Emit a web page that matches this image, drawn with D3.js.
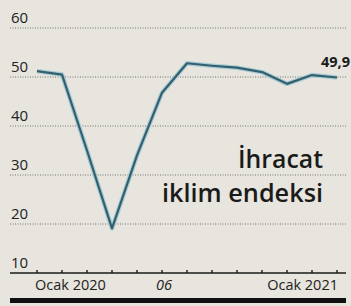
<!DOCTYPE html>
<html>
<head>
<meta charset="utf-8">
<script src="https://cdn.jsdelivr.net/npm/d3@7"></script>
<style>
  body { margin: 0; background: #e7e5de; }
  svg { display: block; font-family: "Open Sans", sans-serif; }
</style>
</head>
<body>
<svg id="svg1" width="351" height="306"></svg>
<script>
// ihracat iklim endeksi, Ocak 2020 - Ocak 2021
var months = ['2020-01','2020-02','2020-03','2020-04','2020-05','2020-06','2020-07',
              '2020-08','2020-09','2020-10','2020-11','2020-12','2021-01'];
var values = [51.2, 50.5, 35.0, 19.1, 34.0, 46.8, 52.8, 52.3, 51.9, 51.0, 48.6, 50.4, 49.9];
var yTicks = [10, 20, 30, 40, 50, 60];
var xLabels = [{i: 0, text: 'Ocak 2020', anchor: 'start', dx: -2, italic: false},
               {i: 5, text: '06', anchor: 'middle', dx: 2, italic: true},
               {i: 12, text: 'Ocak 2021', anchor: 'end', dx: 1, italic: false}];
var lastLabel = '49,9';

var svg = d3.select('#svg1');

var x = d3.scaleLinear()
    .domain([0, months.length - 1])
    .range([37, 337]);

var y = d3.scaleLinear()
    .domain([10, 60])
    .range([273, 28]);

// dotted grid lines + labels
svg.selectAll('.grid')
    .data(yTicks.filter(function(d){ return d > 10; }))
    .enter()
    .append('line')
    .attr('class', 'grid')
    .attr('x1', 10)
    .attr('x2', 347)
    .attr('y1', function(d){ return y(d); })
    .attr('y2', function(d){ return y(d); })
    .attr('stroke', '#555')
    .attr('stroke-width', 0.8)
    .attr('stroke-dasharray', '1,1.5');

svg.selectAll('.ylab')
    .data(yTicks)
    .enter()
    .append('text')
    .attr('class', 'ylab')
    .attr('x', 11)
    .attr('y', function(d){ return y(d) - 5; })
    .attr('font-size', 15)
    .attr('fill', '#222')
    .text(function(d){ return d; });

// baseline with month ticks
svg.append('line')
    .attr('x1', 10)
    .attr('x2', 346)
    .attr('y1', y(10))
    .attr('y2', y(10))
    .attr('stroke', '#1a1a1a')
    .attr('stroke-width', 1.6);

svg.selectAll('.tick')
    .data(months)
    .enter()
    .append('line')
    .attr('class', 'tick')
    .attr('x1', function(d, i){ return x(i); })
    .attr('x2', function(d, i){ return x(i); })
    .attr('y1', y(10))
    .attr('y2', y(10) - 3)
    .attr('stroke', '#1a1a1a')
    .attr('stroke-width', 1.4);

svg.selectAll('.xlab')
    .data(xLabels)
    .enter()
    .append('text')
    .attr('class', 'xlab')
    .attr('x', function(d){ return x(d.i) + d.dx; })
    .attr('y', 290)
    .attr('text-anchor', function(d){ return d.anchor; })
    .attr('font-size', 14.5)
    .attr('font-style', function(d){ return d.italic ? 'italic' : 'normal'; })
    .attr('fill', '#222')
    .text(function(d){ return d.text; });

// thick bottom bar
svg.append('rect')
    .attr('x', 10)
    .attr('y', 298)
    .attr('width', 336)
    .attr('height', 5)
    .attr('fill', '#111');

// the line
var line = d3.line()
    .x(function(d, i){ return x(i); })
    .y(function(d){ return y(d); });

svg.append('path')
    .datum(values)
    .attr('d', line)
    .attr('fill', 'none')
    .attr('stroke', '#a9cbd6')
    .attr('stroke-width', 4.5)
    .attr('stroke-linejoin', 'round');

svg.append('path')
    .datum(values)
    .attr('d', line)
    .attr('fill', 'none')
    .attr('stroke', '#33606c')
    .attr('stroke-width', 2.2)
    .attr('stroke-linejoin', 'round');

svg.append('text')
    .attr('x', 350)
    .attr('y', 67)
    .attr('text-anchor', 'end')
    .attr('font-size', 14.5)
    .attr('font-weight', 700)
    .attr('fill', '#1a1a1a')
    .text(lastLabel);

// title
svg.append('text')
    .attr('x', 323)
    .attr('y', 168)
    .attr('text-anchor', 'end')
    .attr('font-size', 26)
    .attr('font-weight', 600)
    .attr('fill', '#1a1a1a')
    .attr('textLength', 85)
    .attr('lengthAdjust', 'spacingAndGlyphs')
    .text('İhracat');

svg.append('text')
    .attr('x', 323)
    .attr('y', 202)
    .attr('text-anchor', 'end')
    .attr('font-size', 26)
    .attr('font-weight', 600)
    .attr('fill', '#1a1a1a')
    .attr('textLength', 161)
    .attr('lengthAdjust', 'spacingAndGlyphs')
    .text('iklim endeksi');
</script>
</body>
</html>
